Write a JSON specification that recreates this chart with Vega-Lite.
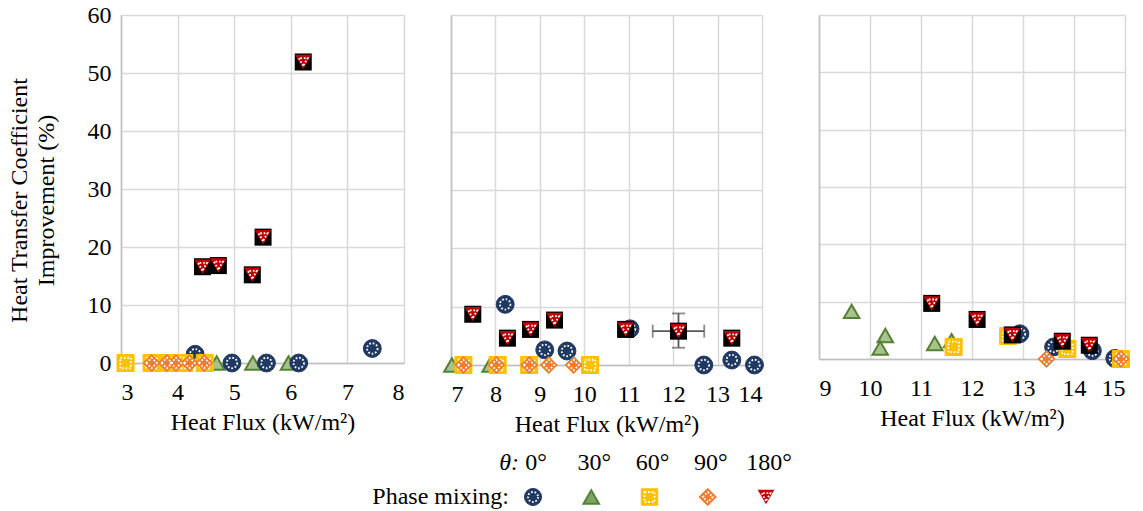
{
  "$schema": "https://vega.github.io/schema/vega-lite/v6.json",
  "background": "white",
  "padding": {"left": 5, "top": 3, "right": 5, "bottom": 0},
  "bounds": "flush",
  "spacing": 477,
  "datasets": {
    "pa": [
      {"series": "0", "flux": 4.31, "htc": 1.5},
      {"series": "0", "flux": 4.96, "htc": 0},
      {"series": "0", "flux": 5.57, "htc": 0},
      {"series": "0", "flux": 6.14, "htc": 0},
      {"series": "0", "flux": 7.44, "htc": 2.5},
      {"series": "30", "flux": 4.69, "htc": 0},
      {"series": "30", "flux": 5.33, "htc": 0},
      {"series": "30", "flux": 5.96, "htc": 0},
      {"series": "60", "flux": 3.08, "htc": 0},
      {"series": "60", "flux": 3.54, "htc": 0},
      {"series": "60", "flux": 3.84, "htc": 0},
      {"series": "60", "flux": 4.12, "htc": 0},
      {"series": "60", "flux": 4.48, "htc": 0},
      {"series": "90", "flux": 3.54, "htc": 0},
      {"series": "90", "flux": 3.81, "htc": 0},
      {"series": "90", "flux": 3.97, "htc": 0},
      {"series": "90", "flux": 4.21, "htc": 0},
      {"series": "90", "flux": 4.47, "htc": 0},
      {"series": "180", "flux": 4.44, "htc": 16.6},
      {"series": "180", "flux": 4.72, "htc": 16.8},
      {"series": "180", "flux": 5.32, "htc": 15.2},
      {"series": "180", "flux": 5.51, "htc": 21.7},
      {"series": "180", "flux": 6.22, "htc": 51.9}
    ],
    "pb": [
      {"series": "0", "flux": 8.22, "htc": 10.4},
      {"series": "0", "flux": 9.11, "htc": 2.6},
      {"series": "0", "flux": 9.61, "htc": 2.4},
      {"series": "0", "flux": 11.03, "htc": 6.2},
      {"series": "0", "flux": 12.69, "htc": 0},
      {"series": "0", "flux": 13.32, "htc": 0.85},
      {"series": "0", "flux": 13.83, "htc": 0},
      {"series": "30", "flux": 7.02, "htc": 0},
      {"series": "30", "flux": 7.88, "htc": 0},
      {"series": "60", "flux": 7.28, "htc": 0},
      {"series": "60", "flux": 8.05, "htc": 0},
      {"series": "60", "flux": 8.76, "htc": 0},
      {"series": "60", "flux": 10.13, "htc": 0},
      {"series": "90", "flux": 7.28, "htc": 0},
      {"series": "90", "flux": 8.02, "htc": 0},
      {"series": "90", "flux": 8.76, "htc": 0},
      {"series": "90", "flux": 9.2, "htc": 0},
      {"series": "90", "flux": 9.76, "htc": 0},
      {"series": "180", "flux": 7.49, "htc": 8.7},
      {"series": "180", "flux": 8.27, "htc": 4.6},
      {"series": "180", "flux": 8.79, "htc": 6.1},
      {"series": "180", "flux": 9.33, "htc": 7.7},
      {"series": "180", "flux": 10.93, "htc": 6.1},
      {"series": "180", "flux": 12.12, "htc": 5.8},
      {"series": "180", "flux": 13.32, "htc": 4.6}
    ],
    "pc": [
      {"series": "0", "flux": 12.94, "htc": 4.4},
      {"series": "0", "flux": 13.6, "htc": 2.1},
      {"series": "0", "flux": 14.36, "htc": 1.45},
      {"series": "0", "flux": 14.8, "htc": 0.1},
      {"series": "30", "flux": 9.64, "htc": 8.3},
      {"series": "30", "flux": 10.3, "htc": 4.1},
      {"series": "30", "flux": 10.2, "htc": 1.9},
      {"series": "30", "flux": 11.27, "htc": 2.7},
      {"series": "30", "flux": 11.6, "htc": 3.2},
      {"series": "60", "flux": 11.64, "htc": 2.1},
      {"series": "60", "flux": 12.71, "htc": 4.0},
      {"series": "60", "flux": 13.87, "htc": 1.75},
      {"series": "60", "flux": 14.92, "htc": 0},
      {"series": "90", "flux": 13.46, "htc": 0},
      {"series": "90", "flux": 14.92, "htc": 0},
      {"series": "180", "flux": 11.21, "htc": 9.7},
      {"series": "180", "flux": 12.1, "htc": 6.9},
      {"series": "180", "flux": 12.79, "htc": 4.2},
      {"series": "180", "flux": 13.77, "htc": 3.1},
      {"series": "180", "flux": 14.3, "htc": 2.4}
    ],
    "errb": [
      {"flux": 12.12, "htc": 5.8, "fluxLow": 11.54, "fluxHigh": 12.7, "htcLow": 2.96, "htcHigh": 8.84}
    ],
    "legend": [
      {"series": "0", "label": "0°"},
      {"series": "30", "label": "30°"},
      {"series": "60", "label": "60°"},
      {"series": "90", "label": "90°"},
      {"series": "180", "label": "180°"}
    ]
  },
  "vconcat": [
    {
      "bounds": "flush",
      "spacing": 47,
      "hconcat": [
        {
          "width": 283,
          "height": 348,
          "data": {"name": "pa"},
          "encoding": {
            "x": {"field": "flux", "type": "quantitative", "scale": {"domain": [3, 8], "nice": false, "zero": false},
              "axis": {"values": [3, 4, 5, 6, 7, 8], "title": "Heat Flux (kW/m²)", "labelPadding": 17, "titlePadding": 6}},
            "y": {"field": "htc", "type": "quantitative", "scale": {"domain": [0, 60], "nice": false},
              "axis": {"values": [0, 10, 20, 30, 40, 50, 60], "title": ["Heat Transfer Coefficient", "Improvement (%)"], "labelPadding": 10, "minExtent": 116, "titleX": -102, "titleY": 185, "titleAngle": 270, "titleBaseline": "middle", "titleAlign": "center", "titleLineHeight": 27}}
          },
          "layer": [
            {"transform": [{"filter": "datum.series === '30'"}], "mark": {"type": "point", "shape": "triangle-up", "size": 240, "filled": true, "fill": "#A9C18F", "stroke": "#548235", "strokeWidth": 2, "opacity": 1}},
            {"transform": [{"filter": "datum.series === '0'"}], "mark": {"type": "point", "shape": "circle", "size": 320, "filled": true, "fill": "#203864", "stroke": "#203864", "strokeWidth": 1, "opacity": 1}},
            {"transform": [{"filter": "datum.series === '0'"}], "mark": {"type": "point", "shape": "circle", "size": 110, "filled": false, "stroke": "white", "strokeWidth": 1.8, "strokeDash": [1.7, 1.8], "opacity": 1}},
            {"transform": [{"filter": "datum.series === '60'"}], "mark": {"type": "point", "shape": "square", "size": 290, "filled": true, "fill": "#FFC000", "stroke": "#FFC000", "strokeWidth": 1, "opacity": 1}},
            {"transform": [{"filter": "datum.series === '60'"}], "mark": {"type": "point", "shape": "square", "size": 110, "filled": false, "stroke": "white", "strokeWidth": 1.8, "strokeDash": [1.7, 1.8], "opacity": 1}},
            {"transform": [{"filter": "datum.series === '90'"}], "mark": {"type": "point", "shape": "diamond", "size": 290, "filled": true, "fill": "#ED7D31", "stroke": "#ED7D31", "strokeWidth": 1, "opacity": 1}},
            {"transform": [{"filter": "datum.series === '90'"}], "mark": {"type": "point", "shape": "diamond", "size": 110, "filled": false, "stroke": "white", "strokeWidth": 1.8, "strokeDash": [1.7, 1.8], "opacity": 1}},
            {"transform": [{"filter": "datum.series === '180'"}], "mark": {"type": "point", "shape": "square", "size": 290, "filled": true, "fill": "black", "strokeWidth": 0, "opacity": 1}},
            {"transform": [{"filter": "datum.series === '180'"}], "mark": {"type": "point", "shape": "triangle-down", "size": 280, "filled": true, "fill": "#C00000", "strokeWidth": 0, "opacity": 1}},
            {"transform": [{"filter": "datum.series === '180'"}], "mark": {"type": "point", "shape": "triangle-down", "size": 80, "filled": false, "stroke": "white", "strokeWidth": 1.8, "strokeDash": [1.7, 1.8], "opacity": 1}},
            {"data": {"values": [{"label": "(a)"}]}, "mark": {"type": "text", "align": "left", "baseline": "middle", "dx": 8, "dy": 17, "fontSize": 24, "font": "Liberation Serif", "color": "black"},
              "encoding": {"x": {"datum": 3, "type": "quantitative"}, "y": {"datum": 60, "type": "quantitative"}, "text": {"field": "label"}}}
          ]
        },
        {
          "bounds": "flush",
          "spacing": 57,
          "hconcat": [
            {
              "width": 311,
              "height": 350,
              "data": {"name": "pb"},
              "encoding": {
                "x": {"field": "flux", "type": "quantitative", "scale": {"domain": [7, 14], "nice": false, "zero": false},
                  "axis": {"values": [7, 8, 9, 10, 11, 12, 13, 14], "title": "Heat Flux (kW/m²)", "labelPadding": 17, "titlePadding": 6}},
                "y": {"field": "htc", "type": "quantitative", "scale": {"domain": [0, 60], "nice": false},
                  "axis": {"values": [0, 10, 20, 30, 40, 50, 60], "title": null, "labels": false, "minExtent": 0}}
              },
              "layer": [
                {"transform": [{"filter": "datum.series === '30'"}], "mark": {"type": "point", "shape": "triangle-up", "size": 240, "filled": true, "fill": "#A9C18F", "stroke": "#548235", "strokeWidth": 2, "opacity": 1}},
                {"transform": [{"filter": "datum.series === '0'"}], "mark": {"type": "point", "shape": "circle", "size": 320, "filled": true, "fill": "#203864", "stroke": "#203864", "strokeWidth": 1, "opacity": 1}},
                {"transform": [{"filter": "datum.series === '0'"}], "mark": {"type": "point", "shape": "circle", "size": 110, "filled": false, "stroke": "white", "strokeWidth": 1.8, "strokeDash": [1.7, 1.8], "opacity": 1}},
                {"transform": [{"filter": "datum.series === '60'"}], "mark": {"type": "point", "shape": "square", "size": 290, "filled": true, "fill": "#FFC000", "stroke": "#FFC000", "strokeWidth": 1, "opacity": 1}},
                {"transform": [{"filter": "datum.series === '60'"}], "mark": {"type": "point", "shape": "square", "size": 110, "filled": false, "stroke": "white", "strokeWidth": 1.8, "strokeDash": [1.7, 1.8], "opacity": 1}},
                {"transform": [{"filter": "datum.series === '90'"}], "mark": {"type": "point", "shape": "diamond", "size": 290, "filled": true, "fill": "#ED7D31", "stroke": "#ED7D31", "strokeWidth": 1, "opacity": 1}},
                {"transform": [{"filter": "datum.series === '90'"}], "mark": {"type": "point", "shape": "diamond", "size": 110, "filled": false, "stroke": "white", "strokeWidth": 1.8, "strokeDash": [1.7, 1.8], "opacity": 1}},
                {"data": {"name": "errb"}, "mark": {"type": "errorbar", "ticks": true, "size": 13, "thickness": 1.8, "color": "#595959"},
                  "encoding": {"x": {"field": "flux", "type": "quantitative"}, "y": {"field": "htcLow", "type": "quantitative"}, "y2": {"field": "htcHigh"}}},
                {"data": {"name": "errb"}, "mark": {"type": "errorbar", "ticks": true, "size": 13, "thickness": 1.8, "color": "#595959"},
                  "encoding": {"y": {"field": "htc", "type": "quantitative"}, "x": {"field": "fluxLow", "type": "quantitative"}, "x2": {"field": "fluxHigh"}}},
                {"transform": [{"filter": "datum.series === '180'"}], "mark": {"type": "point", "shape": "square", "size": 290, "filled": true, "fill": "black", "strokeWidth": 0, "opacity": 1}},
                {"transform": [{"filter": "datum.series === '180'"}], "mark": {"type": "point", "shape": "triangle-down", "size": 280, "filled": true, "fill": "#C00000", "strokeWidth": 0, "opacity": 1}},
                {"transform": [{"filter": "datum.series === '180'"}], "mark": {"type": "point", "shape": "triangle-down", "size": 80, "filled": false, "stroke": "white", "strokeWidth": 1.8, "strokeDash": [1.7, 1.8], "opacity": 1}},
                {"data": {"values": [{"label": "(b)"}]}, "mark": {"type": "text", "align": "left", "baseline": "middle", "dx": 1, "dy": 15, "fontSize": 24, "font": "Liberation Serif", "color": "black"},
                  "encoding": {"x": {"datum": 7, "type": "quantitative"}, "y": {"datum": 60, "type": "quantitative"}, "text": {"field": "label"}}}
              ]
            },
            {
              "width": 306,
              "height": 344,
              "data": {"name": "pc"},
              "encoding": {
                "x": {"field": "flux", "type": "quantitative", "scale": {"domain": [9, 15], "nice": false, "zero": false},
                  "axis": {"values": [9, 10, 11, 12, 13, 14, 15], "title": "Heat Flux (kW/m²)", "labelPadding": 17, "titlePadding": 6}},
                "y": {"field": "htc", "type": "quantitative", "scale": {"domain": [0, 60], "nice": false},
                  "axis": {"values": [0, 10, 20, 30, 40, 50, 60], "title": null, "labels": false, "minExtent": 0}}
              },
              "layer": [
                {"transform": [{"filter": "datum.series === '30'"}], "mark": {"type": "point", "shape": "triangle-up", "size": 240, "filled": true, "fill": "#A9C18F", "stroke": "#548235", "strokeWidth": 2, "opacity": 1}},
                {"transform": [{"filter": "datum.series === '0'"}], "mark": {"type": "point", "shape": "circle", "size": 320, "filled": true, "fill": "#203864", "stroke": "#203864", "strokeWidth": 1, "opacity": 1}},
                {"transform": [{"filter": "datum.series === '0'"}], "mark": {"type": "point", "shape": "circle", "size": 110, "filled": false, "stroke": "white", "strokeWidth": 1.8, "strokeDash": [1.7, 1.8], "opacity": 1}},
                {"transform": [{"filter": "datum.series === '60'"}], "mark": {"type": "point", "shape": "square", "size": 290, "filled": true, "fill": "#FFC000", "stroke": "#FFC000", "strokeWidth": 1, "opacity": 1}},
                {"transform": [{"filter": "datum.series === '60'"}], "mark": {"type": "point", "shape": "square", "size": 110, "filled": false, "stroke": "white", "strokeWidth": 1.8, "strokeDash": [1.7, 1.8], "opacity": 1}},
                {"transform": [{"filter": "datum.series === '90'"}], "mark": {"type": "point", "shape": "diamond", "size": 290, "filled": true, "fill": "#ED7D31", "stroke": "#ED7D31", "strokeWidth": 1, "opacity": 1}},
                {"transform": [{"filter": "datum.series === '90'"}], "mark": {"type": "point", "shape": "diamond", "size": 110, "filled": false, "stroke": "white", "strokeWidth": 1.8, "strokeDash": [1.7, 1.8], "opacity": 1}},
                {"transform": [{"filter": "datum.series === '180'"}], "mark": {"type": "point", "shape": "square", "size": 290, "filled": true, "fill": "black", "strokeWidth": 0, "opacity": 1}},
                {"transform": [{"filter": "datum.series === '180'"}], "mark": {"type": "point", "shape": "triangle-down", "size": 280, "filled": true, "fill": "#C00000", "strokeWidth": 0, "opacity": 1}},
                {"transform": [{"filter": "datum.series === '180'"}], "mark": {"type": "point", "shape": "triangle-down", "size": 80, "filled": false, "stroke": "white", "strokeWidth": 1.8, "strokeDash": [1.7, 1.8], "opacity": 1}},
                {"data": {"values": [{"label": "(c)"}]}, "mark": {"type": "text", "align": "left", "baseline": "middle", "dx": 4, "dy": 17, "fontSize": 24, "font": "Liberation Serif", "color": "black"},
                  "encoding": {"x": {"datum": 9, "type": "quantitative"}, "y": {"datum": 60, "type": "quantitative"}, "text": {"field": "label"}}}
              ]
            }
          ]
        }
      ]
    },
    {
      "width": 660,
      "height": 10,
      "data": {"name": "legend"},
      "encoding": {
        "x": {"field": "series", "type": "nominal", "scale": {"type": "point", "domain": ["0", "30", "60", "90", "180"], "range": [412, 645], "padding": 0}, "axis": null}
      },
      "layer": [
        {"transform": [{"filter": "datum.series === '30'"}], "mark": {"type": "point", "shape": "triangle-up", "size": 240, "filled": true, "fill": "#7FA463", "stroke": "#548235", "strokeWidth": 2, "opacity": 1}},
        {"transform": [{"filter": "datum.series === '0'"}], "mark": {"type": "point", "shape": "circle", "size": 290, "filled": true, "fill": "#203864", "stroke": "#203864", "strokeWidth": 1, "opacity": 1}},
        {"transform": [{"filter": "datum.series === '0'"}], "mark": {"type": "point", "shape": "circle", "size": 100, "filled": false, "stroke": "white", "strokeWidth": 1.8, "strokeDash": [1.7, 1.8], "opacity": 1}},
        {"transform": [{"filter": "datum.series === '60'"}], "mark": {"type": "point", "shape": "square", "size": 270, "filled": true, "fill": "#FFC000", "stroke": "#FFC000", "strokeWidth": 1, "opacity": 1}},
        {"transform": [{"filter": "datum.series === '60'"}], "mark": {"type": "point", "shape": "square", "size": 100, "filled": false, "stroke": "white", "strokeWidth": 1.8, "strokeDash": [1.7, 1.8], "opacity": 1}},
        {"transform": [{"filter": "datum.series === '90'"}], "mark": {"type": "point", "shape": "diamond", "size": 300, "filled": true, "fill": "#ED7D31", "stroke": "#ED7D31", "strokeWidth": 1, "opacity": 1}},
        {"transform": [{"filter": "datum.series === '90'"}], "mark": {"type": "point", "shape": "diamond", "size": 100, "filled": false, "stroke": "white", "strokeWidth": 1.8, "strokeDash": [1.7, 1.8], "opacity": 1}},
        {"transform": [{"filter": "datum.series === '180'"}], "mark": {"type": "point", "shape": "triangle-down", "size": 280, "filled": true, "fill": "#C00000", "strokeWidth": 0, "opacity": 1}},
        {"transform": [{"filter": "datum.series === '180'"}], "mark": {"type": "point", "shape": "triangle-down", "size": 80, "filled": false, "stroke": "white", "strokeWidth": 1.8, "strokeDash": [1.7, 1.8], "opacity": 1}},
        {"mark": {"type": "text", "align": "center", "baseline": "middle", "dx": 3, "dy": -34, "fontSize": 24, "font": "Liberation Serif", "color": "black"},
          "encoding": {"text": {"field": "label"}}},
        {"data": {"values": [{"label": "θ:"}]}, "mark": {"type": "text", "align": "right", "baseline": "middle", "dx": -14, "dy": -34, "fontSize": 24, "fontStyle": "italic", "font": "Liberation Serif", "color": "black"},
          "encoding": {"x": {"datum": "0"}, "text": {"field": "label"}}},
        {"data": {"values": [{"label": "Phase mixing:"}]}, "mark": {"type": "text", "align": "right", "baseline": "middle", "dx": -24, "fontSize": 24, "font": "Liberation Serif", "color": "black"},
          "encoding": {"x": {"datum": "0"}, "text": {"field": "label"}}}
      ]
    }
  ],
  "config": {
    "font": "Liberation Serif",
    "view": {"stroke": null},
    "axis": {
      "labelFont": "Liberation Serif",
      "titleFont": "Liberation Serif",
      "labelFontSize": 24,
      "titleFontSize": 24,
      "labelColor": "black",
      "titleColor": "black",
      "titleFontWeight": "normal",
      "grid": true,
      "gridColor": "#D9D9D9",
      "gridWidth": 1.5,
      "domainColor": "#BFBFBF",
      "domainWidth": 1.5,
      "ticks": false
    }
  }
}
